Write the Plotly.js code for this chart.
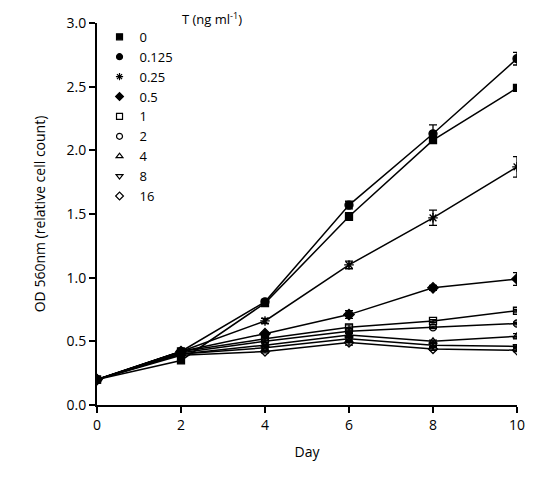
<!DOCTYPE html>
<html>
<head>
<meta charset="utf-8">
<script src="https://cdn.plot.ly/plotly-3.0.1.min.js"></script>
<style>html,body{margin:0;padding:0;background:#fff;}#chart{width:559px;height:478px;}</style>
</head>
<body>
<div id="chart"></div>
<script>
const days = [0, 2, 4, 6, 8, 10];
const seriesNames = ["0", "0.125", "0.25", "0.5", "1", "2", "4", "8", "16"];
const legendTitle = "T (ng ml<sup>-1</sup>)";
const T0     = [0.20, 0.35, 0.80, 1.48, 2.08, 2.49];
const T0125  = [0.20, 0.42, 0.81, 1.57, 2.13, 2.72];
const T025   = [0.20, 0.42, 0.66, 1.10, 1.47, 1.87];
const T05    = [0.20, 0.42, 0.56, 0.71, 0.92, 0.99];
const T1     = [0.20, 0.42, 0.52, 0.61, 0.66, 0.74];
const T2     = [0.20, 0.41, 0.50, 0.58, 0.61, 0.64];
const T4     = [0.20, 0.40, 0.47, 0.55, 0.50, 0.54];
const T8     = [0.20, 0.40, 0.45, 0.52, 0.47, 0.46];
const T16    = [0.20, 0.39, 0.42, 0.49, 0.44, 0.43];
const E0     = [0, 0.01, 0.01, 0.03, 0.02, 0.01];
const E0125  = [0, 0.01, 0.02, 0.03, 0.07, 0.05];
const E025   = [0, 0.01, 0.02, 0.03, 0.06, 0.08];
const E05    = [0, 0.01, 0.01, 0.03, 0.02, 0.05];
const E1     = [0, 0.01, 0.01, 0.02, 0.01, 0.01];
const E2     = [0, 0.01, 0.01, 0.02, 0.01, 0.01];
const E4     = [0, 0.01, 0.01, 0.02, 0.01, 0.02];
const E8     = [0, 0.01, 0.01, 0.02, 0.01, 0.01];
const E16    = [0, 0.01, 0.01, 0.02, 0.01, 0.01];

const values = [T0, T0125, T025, T05, T1, T2, T4, T8, T16];
const errors = [E0, E0125, E025, E05, E1, E2, E4, E8, E16];
const symbols = ["square", "circle", "asterisk-open", "diamond", "square-open",
                 "circle-open", "triangle-up-open", "triangle-down-open", "diamond-open"];
const sizes = [7, 8, 8, 8, 7, 7, 7, 7, 7];

const font = "Open Sans, Noto Sans, sans-serif";
const traces = [];
values.forEach((v, i) => {
  traces.push({
    x: days, y: v, type: "scatter", mode: "lines+markers",
    showlegend: false,
    line: {color: "#000", width: 1.5},
    marker: {symbol: symbols[i], size: sizes[i], color: "#000", line: {color: "#000", width: 1.3}},
    error_y: {type: "data", array: errors[i], visible: true, color: "#000", thickness: 1.3, width: 4}
  });
});
values.forEach((v, i) => {
  traces.push({
    x: [null], y: [null], type: "scatter", mode: "markers",
    name: seriesNames[i], showlegend: true,
    marker: {symbol: symbols[i], size: 6, color: "#000", line: {color: "#000", width: 1.2}}
  });
});

const layout = {
  width: 559, height: 478,
  margin: {l: 97, r: 42, t: 23, b: 73},
  paper_bgcolor: "#fff", plot_bgcolor: "#fff",
  font: {family: font, size: 14, color: "#000"},
  xaxis: {
    range: [0, 10], tickvals: days, ticktext: days.map(String),
    showgrid: false, zeroline: false, showline: true, linecolor: "#000", linewidth: 2,
    ticks: "outside", ticklen: 6, tickwidth: 2, tickcolor: "#000",
    title: {text: "Day", font: {family: font, size: 14}, standoff: 14}
  },
  yaxis: {
    range: [0, 3.0], tickvals: [0, 0.5, 1.0, 1.5, 2.0, 2.5, 3.0],
    ticktext: ["0.0", "0.5", "1.0", "1.5", "2.0", "2.5", "3.0"],
    showgrid: false, zeroline: false, showline: true, linecolor: "#000", linewidth: 2,
    ticks: "outside", ticklen: 6, tickwidth: 2, tickcolor: "#000",
    title: {text: "OD 560nm (relative cell count)", font: {family: font, size: 14}, standoff: 18}
  },
  legend: {
    x: 0.006, y: 1.003, xanchor: "left", yanchor: "top",
    bgcolor: "rgba(0,0,0,0)", font: {family: font, size: 13},
    itemwidth: 30, tracegroupgap: 0
  },
  annotations: [{
    text: legendTitle, xref: "paper", yref: "paper",
    x: 0.198, y: 1.013, xanchor: "left", yanchor: "middle",
    showarrow: false, font: {family: font, size: 13, color: "#000"}
  }]
};

Plotly.newPlot("chart", traces, layout, {displayModeBar: false, staticPlot: true});
</script>
</body>
</html>
